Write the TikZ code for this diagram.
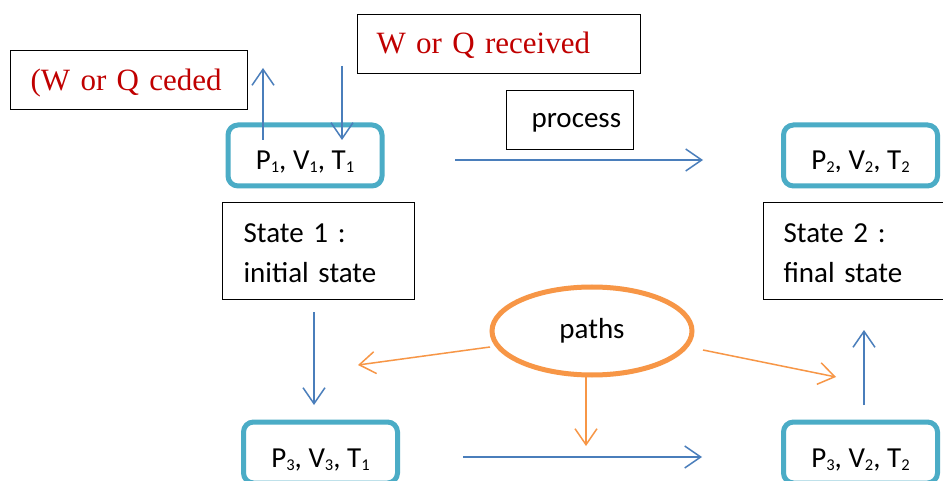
\documentclass[tikz,border=0pt]{standalone}
\usepackage{fontspec}
\setmainfont{Carlito}
\newfontfamily\tnr{Liberation Serif}
\usetikzlibrary{arrows.meta,shapes.geometric}
\definecolor{ablue}{HTML}{4A7EBB}
\definecolor{cyanc}{HTML}{4BACC6}
\definecolor{orangec}{HTML}{F79646}
\definecolor{redc}{HTML}{C00000}
\newcommand\sbs[1]{\raisebox{-3pt}{\fontsize{16.5}{16.5}\selectfont #1}}
\newcommand\topst[1]{\rule{0pt}{#1}}
\newcommand\botst[1]{\rule[-#1]{0pt}{#1}}
\tikzset{
  box/.style={draw=black, line width=1.2pt, anchor=north west, align=left, inner ysep=0pt},
  redtxt/.style={font=\tnr\fontsize{31}{31}\selectfont, text=redc},
  ctxt/.style={font=\fontsize{29}{40}\selectfont},
  pbox/.style={draw=cyanc, line width=5pt, rounded corners=10pt, minimum width=154, minimum height=61},
  ptxt/.style={font=\fontsize{29}{34}\selectfont, text height=29pt, text depth=0pt, inner sep=0pt},
  barrow/.style={draw=ablue, line width=1.5pt, -{Straight Barb[length=16pt,width=22pt,line width=1.5pt]}},
  oarrow/.style={draw=orangec, line width=1.5pt, -{Straight Barb[length=16pt,width=22pt,line width=1.5pt]}}
}
\begin{document}
\begin{tikzpicture}[x=1pt,y=-1pt]
\useasboundingbox[fill=white] (0,0) rectangle (943,481);

% text boxes
\node[box, redtxt, inner xsep=20pt, text width=197pt] (ceded) at (10,50) {\topst{40pt}(W or Q ceded\botst{19pt}};
\node[box, redtxt, inner xsep=19pt, text width=245pt] (recv) at (357,14) {\topst{39pt}W or Q received\botst{20pt}};
\node[box, ctxt, inner xsep=25pt, text width=77pt] (proc) at (506,90) {\topst{37pt}process\botst{22pt}};
\node[box, ctxt, inner xsep=21pt, text width=150pt] (st1) at (222,202) {\topst{40pt}State 1 :\\initial state\botst{17pt}};
\node[box, ctxt, inner xsep=20pt, text width=145pt] (st2) at (763,202) {\topst{40pt}State 2 :\\final state\botst{17pt}};

% state boxes
\node[pbox] (p1) at (305,155.5) {};
\node[ptxt] (p1t) at (p1.center) {P\sbs{1}, V\sbs{1}, T\sbs{1}};
\node[pbox] (p2) at (860.5,155.5) {};
\begin{scope}
  \clip (780,120) rectangle (940,172);
  \node[ptxt] (p2t) at (p2.center) {P\sbs{2}, V\sbs{2}, T\sbs{2}};
\end{scope}
\node[pbox] (p3) at (320.5,452.5) {};
\node[ptxt] (p3t) at (p3.center) {P\sbs{3}, V\sbs{3}, T\sbs{1}};
\node[pbox] (p4) at (860.5,452.5) {};
\node[ptxt] (p4t) at (p4.center) {P\sbs{3}, V\sbs{2}, T\sbs{2}};

% paths ellipse
\node[ellipse, draw=orangec, line width=5pt, minimum width=200, minimum height=88, font=\fontsize{29}{34}\selectfont] (paths) at (592,331) {paths};

% blue arrow end points
\coordinate (a1s) at (263,140); \coordinate (a1e) at (263,68);
\coordinate (a2s) at (342,66);  \coordinate (a2e) at (342,140);
\coordinate (a3s) at (455,160); \coordinate (a3e) at (703,160);
\coordinate (a4s) at (314,312); \coordinate (a4e) at (314,405);
\coordinate (a5s) at (463,457); \coordinate (a5e) at (702,457);
\coordinate (a6s) at (864,405); \coordinate (a6e) at (864,330);
\draw[barrow] (a1s) -- (a1e);
\draw[barrow] (a2s) -- (a2e);
\draw[barrow] (a3s) -- (a3e);
\draw[barrow] (a4s) -- (a4e);
\draw[barrow] (a5s) -- (a5e);
\draw[barrow] (a6s) -- (a6e);

% orange arrows
\coordinate (o1s) at (490,347); \coordinate (o1e) at (358,365);
\coordinate (o2s) at (586,377); \coordinate (o2e) at (586,446);
\coordinate (o3s) at (703,350); \coordinate (o3e) at (836,377);
\draw[oarrow] (o1s) -- (o1e);
\draw[oarrow] (o2s) -- (o2e);
\draw[oarrow] (o3s) -- (o3e);
\end{tikzpicture}
\end{document}
